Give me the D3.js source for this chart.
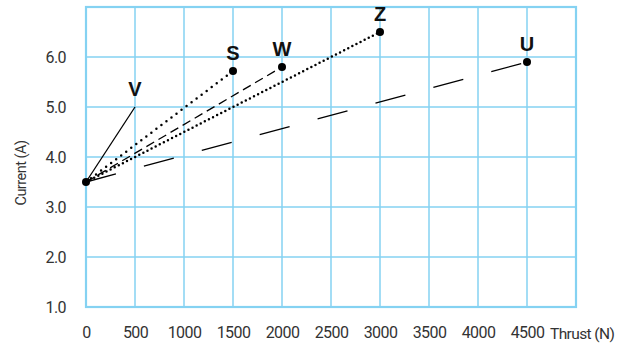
<!DOCTYPE html>
<html><head><meta charset="utf-8">
<script src="https://cdn.jsdelivr.net/npm/d3@7"></script>
<style>body{margin:0;background:#fff}svg{display:block}</style>
</head><body>
<script>
const xTicks = [0,500,1000,1500,2000,2500,3000,3500,4000,4500];
const yTicks = [1.0,2.0,3.0,4.0,5.0,6.0];
const seriesNames = ["V","S","W","Z","U"];
const startPoint = [0, 3.5];
const endThrust = [500, 1500, 2000, 3000, 4500];
const endCurrent = [5.0, 5.72, 5.8, 6.5, 5.9];
const hasDot = [false, true, true, true, true];
const styles = ["solid","sparsedot","dashed","dotted","longdash"];

const W = 623, H = 347;
const svg = d3.select("body").append("svg").attr("width", W).attr("height", H);
const x = d3.scaleLinear().domain([0,5000]).range([86,576]);
const y = d3.scaleLinear().domain([1,7]).range([307,7]);
const font = "Roboto,'Liberation Sans',sans-serif";
const grid = "#85d2f2";

// grid
svg.append("g").selectAll("line").data(xTicks.concat([5000])).join("line")
  .attr("x1", d=>x(d)).attr("x2", d=>x(d)).attr("y1", y(7)).attr("y2", y(1))
  .attr("stroke", grid).attr("stroke-width", 1.5);
svg.append("g").selectAll("line").data(yTicks.concat([7])).join("line")
  .attr("y1", d=>y(d)).attr("y2", d=>y(d)).attr("x1", x(0)).attr("x2", x(5000))
  .attr("stroke", grid).attr("stroke-width", 1.5);
svg.append("rect").attr("x", x(0)).attr("y", y(7)).attr("width", x(5000)-x(0)).attr("height", y(1)-y(7))
  .attr("fill","none").attr("stroke", grid).attr("stroke-width", 2.2);

const xAxis = svg.append("g").attr("transform", `translate(0,${y(1)})`)
  .call(d3.axisBottom(x).tickValues(xTicks).tickSize(0).tickPadding(20).tickFormat(d3.format("d")));
xAxis.select(".domain").remove();
xAxis.selectAll("text").attr("font-family", font).attr("font-size", 16).attr("letter-spacing", "-0.6px").attr("fill","#333");
const yAxis = svg.append("g").attr("transform", `translate(${x(0)},0)`)
  .call(d3.axisLeft(y).tickValues(yTicks).tickSize(0).tickPadding(20).tickFormat(d3.format(".1f")));
yAxis.select(".domain").remove();
yAxis.selectAll("text").attr("font-family", font).attr("font-size", 16).attr("letter-spacing", "-0.6px").attr("fill","#333");

svg.append("text").attr("x", 550).attr("y", y(1)+32).attr("font-family", font).attr("font-size", 15.5)
  .attr("letter-spacing","-0.6px").attr("fill","#333").text("Thrust (N)");
svg.append("text").attr("transform", `translate(26,173) rotate(-90)`).attr("text-anchor","middle")
  .attr("font-family", font).attr("font-size", 14.5).attr("letter-spacing","-0.5px").attr("fill","#333").text("Current (A)");

// lines
const dash = {solid:null, sparsedot:"0,6.3", dotted:"0,4.6", dashed:"9,5", longdash:"31,29"};
seriesNames.forEach((n,i)=>{
  const l = svg.append("line")
    .attr("x1", x(startPoint[0])).attr("y1", y(startPoint[1]))
    .attr("x2", x(endThrust[i])).attr("y2", y(endCurrent[i]))
    .attr("stroke","#000");
  if (styles[i]==="dotted" || styles[i]==="sparsedot") l.attr("stroke-width",2.5).attr("stroke-linecap","round").attr("stroke-dasharray", dash[styles[i]]);
  else if (styles[i]==="solid") l.attr("stroke-width",1.3);
  else l.attr("stroke-width",1.3).attr("stroke-dasharray", dash[styles[i]]);
  if (hasDot[i]) svg.append("circle").attr("cx", x(endThrust[i])).attr("cy", y(endCurrent[i])).attr("r",4).attr("fill","#000");
  svg.append("text").attr("x", x(endThrust[i])).attr("y", y(endCurrent[i]) - 11)
    .attr("text-anchor","middle").attr("font-family","'Liberation Sans',Arial,sans-serif")
    .attr("font-weight","bold").attr("font-size",20).attr("fill","#111").text(n);
});
svg.append("circle").attr("cx", x(startPoint[0])).attr("cy", y(startPoint[1])).attr("r",4).attr("fill","#000");
</script>
</body></html>
